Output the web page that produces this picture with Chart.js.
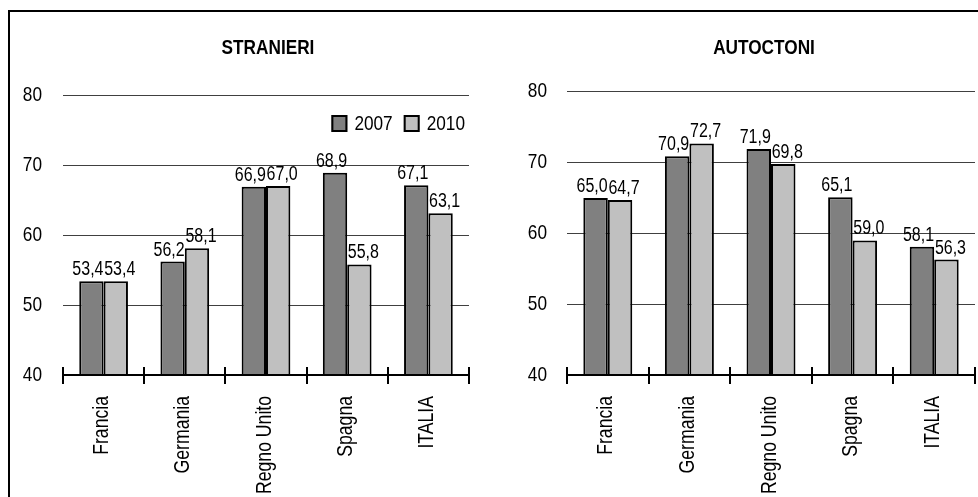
<!DOCTYPE html>
<html><head><meta charset="utf-8">
<script src="https://cdn.jsdelivr.net/npm/chart.js@4/dist/chart.umd.min.js"></script>
<style>
html,body{margin:0;padding:0;width:978px;height:497px;overflow:hidden;background:#fff;}
#frame{position:absolute;left:8px;top:10px;width:1100px;height:600px;border:2px solid #000;box-sizing:border-box;}
canvas{position:absolute;top:0;}
#c1{left:0;}
#c2{left:490px;}
</style></head><body>
<div id="frame"></div>
<canvas id="c1" width="489" height="497"></canvas>
<canvas id="c2" width="488" height="497"></canvas>
<script>
// ---- data ----
const categories = ['Francia', 'Germania', 'Regno Unito', 'Spagna', 'ITALIA'];
const seriesLabels = ['2007', '2010'];
const stranieri2007 = [53.4, 56.2, 66.9, 68.9, 67.1];
const stranieri2010 = [53.4, 58.1, 67.0, 55.8, 63.1];
const autoctoni2007 = [65.0, 70.9, 71.9, 65.1, 58.1];
const autoctoni2010 = [64.7, 72.7, 69.8, 59.0, 56.3];
const yMin = 40, yMax = 80, yStep = 10;
const titles = ['STRANIERI', 'AUTOCTONI'];

// Arial-Narrow-like rendering: Liberation Sans condensed horizontally
const FONT = "'Liberation Sans', Arial, sans-serif";
const SQUEEZE = 0.82;
const SZ = { tick: 21, cat: 21.5, title: 21, value: 19.5, legend: 21 };
const LABEL_DX = [-3.5, 4]; // per-series horizontal nudge of value labels (style)

Chart.defaults.font.family = FONT;
Chart.defaults.color = '#000';

function fmt(v) { return v.toFixed(1).replace('.', ','); }

function drawText(ctx, text, x, y, font, align, rot) {
  ctx.save();
  ctx.font = font;
  ctx.fillStyle = '#000';
  ctx.textAlign = align;
  ctx.textBaseline = 'alphabetic';
  ctx.translate(x, y);
  if (rot) ctx.rotate(rot);
  ctx.scale(SQUEEZE, 1);
  ctx.fillText(text, 0, 0);
  ctx.restore();
}
function textW(ctx, text, font) {
  ctx.save(); ctx.font = font;
  const w = ctx.measureText(text).width * SQUEEZE;
  ctx.restore();
  return w;
}

const valueLabels = {
  id: 'valueLabels',
  afterDatasetsDraw(chart) {
    const ctx = chart.ctx;
    chart.data.datasets.forEach((ds, i) => {
      chart.getDatasetMeta(i).data.forEach((bar, j) => {
        drawText(ctx, fmt(ds.data[j]), bar.x + LABEL_DX[i], bar.y - 6, SZ.value + 'px ' + FONT, 'center', 0);
      });
    });
  }
};

const axisDraw = {
  id: 'axisDraw',
  afterDraw(chart, args, opts) {
    const xs = chart.scales.x, ys = chart.scales.y;
    const ctx = chart.ctx;
    const n = chart.data.labels.length;
    const y = Math.round(xs.top);
    // axis line + crossing ticks
    ctx.save();
    ctx.strokeStyle = '#000';
    ctx.lineWidth = 2;
    ctx.beginPath();
    ctx.moveTo(xs.left - 1, y);
    ctx.lineTo(xs.right + 1, y);
    for (let i = 0; i <= n; i++) {
      const px = Math.round(xs.left + i * (xs.right - xs.left) / n);
      ctx.moveTo(px, y - 8);
      ctx.lineTo(px, y + 9);
    }
    ctx.stroke();
    ctx.restore();
    // y tick labels
    ys.ticks.forEach(t => {
      const py = ys.getPixelForValue(t.value);
      drawText(ctx, String(t.value), ys.right - opts.yPad, py + 5.5, SZ.tick + 'px ' + FONT, 'right', 0);
    });
    // category labels (rotated)
    chart.data.labels.forEach((lab, i) => {
      const px = xs.getPixelForValue(i);
      drawText(ctx, lab, px + 4.5, y + 21, SZ.cat + 'px ' + FONT, 'right', -Math.PI / 2);
    });
    // title
    const tf = 'bold ' + SZ.title + 'px ' + FONT;
    drawText(ctx, opts.title, opts.titleX, 53.5, tf, 'center', 0);
  }
};

const boxLegend = {
  id: 'boxLegend',
  afterDraw(chart, args, opts) {
    if (!opts.show) return;
    const ctx = chart.ctx, ca = chart.chartArea;
    const f = SZ.legend + 'px ' + FONT;
    const ds = chart.data.datasets;
    let total = 0;
    ds.forEach((d, i) => { total += 16 + 7 + textW(ctx, d.label, f) + (i ? 11 : 0); });
    let x = ca.right - 4 - total;
    const top = ca.top + 20;
    ds.forEach((d, i) => {
      if (i) x += 11;
      ctx.save();
      ctx.fillStyle = d.backgroundColor;
      ctx.fillRect(x, top, 16, 17);
      ctx.strokeStyle = '#000';
      ctx.lineWidth = 2;
      ctx.strokeRect(x + 1, top + 1, 14, 15);
      ctx.restore();
      x += 16 + 7;
      drawText(ctx, d.label, x, top + 14.5, f, 'left', 0);
      x += textW(ctx, d.label, f);
    });
  }
};

function makeChart(id, title, d07, d10, cfg) {
  return new Chart(document.getElementById(id), {
    type: 'bar',
    data: {
      labels: categories,
      datasets: [
        { label: seriesLabels[0], data: d07, backgroundColor: '#808080', borderColor: '#000', borderWidth: 2, categoryPercentage: 0.6, barPercentage: 1 },
        { label: seriesLabels[1], data: d10, backgroundColor: '#c0c0c0', borderColor: '#000', borderWidth: 2, categoryPercentage: 0.6, barPercentage: 1 }
      ]
    },
    options: {
      responsive: false,
      animation: false,
      events: [],
      layout: { padding: { left: 0, right: cfg.padRight, top: cfg.areaTop, bottom: 0 } },
      plugins: {
        legend: { display: false },
        tooltip: { enabled: false },
        title: { display: false },
        boxLegend: { show: cfg.legend },
        axisDraw: { yPad: cfg.yPad, title: title, titleX: cfg.titleX }
      },
      scales: {
        x: {
          grid: { display: false, drawTicks: false },
          border: { display: false },
          ticks: { display: false },
          afterFit(s) { s.height = 122; }
        },
        y: {
          min: yMin, max: yMax,
          grid: { color: '#404040', lineWidth: 1, drawTicks: false },
          border: { display: false },
          ticks: { display: false, stepSize: yStep },
          afterFit(s) { s.width = cfg.yWidth; }
        }
      }
    },
    plugins: [valueLabels, axisDraw, boxLegend]
  });
}

makeChart('c1', titles[0], stranieri2007, stranieri2010, { padRight: 20, areaTop: 95, legend: true, titleX: 268, yPad: 21, yWidth: 63 });
makeChart('c2', titles[1], autoctoni2007, autoctoni2010, { padRight: 3, areaTop: 91.7, legend: false, titleX: 274, yPad: 20, yWidth: 77 });
</script>
</body></html>
